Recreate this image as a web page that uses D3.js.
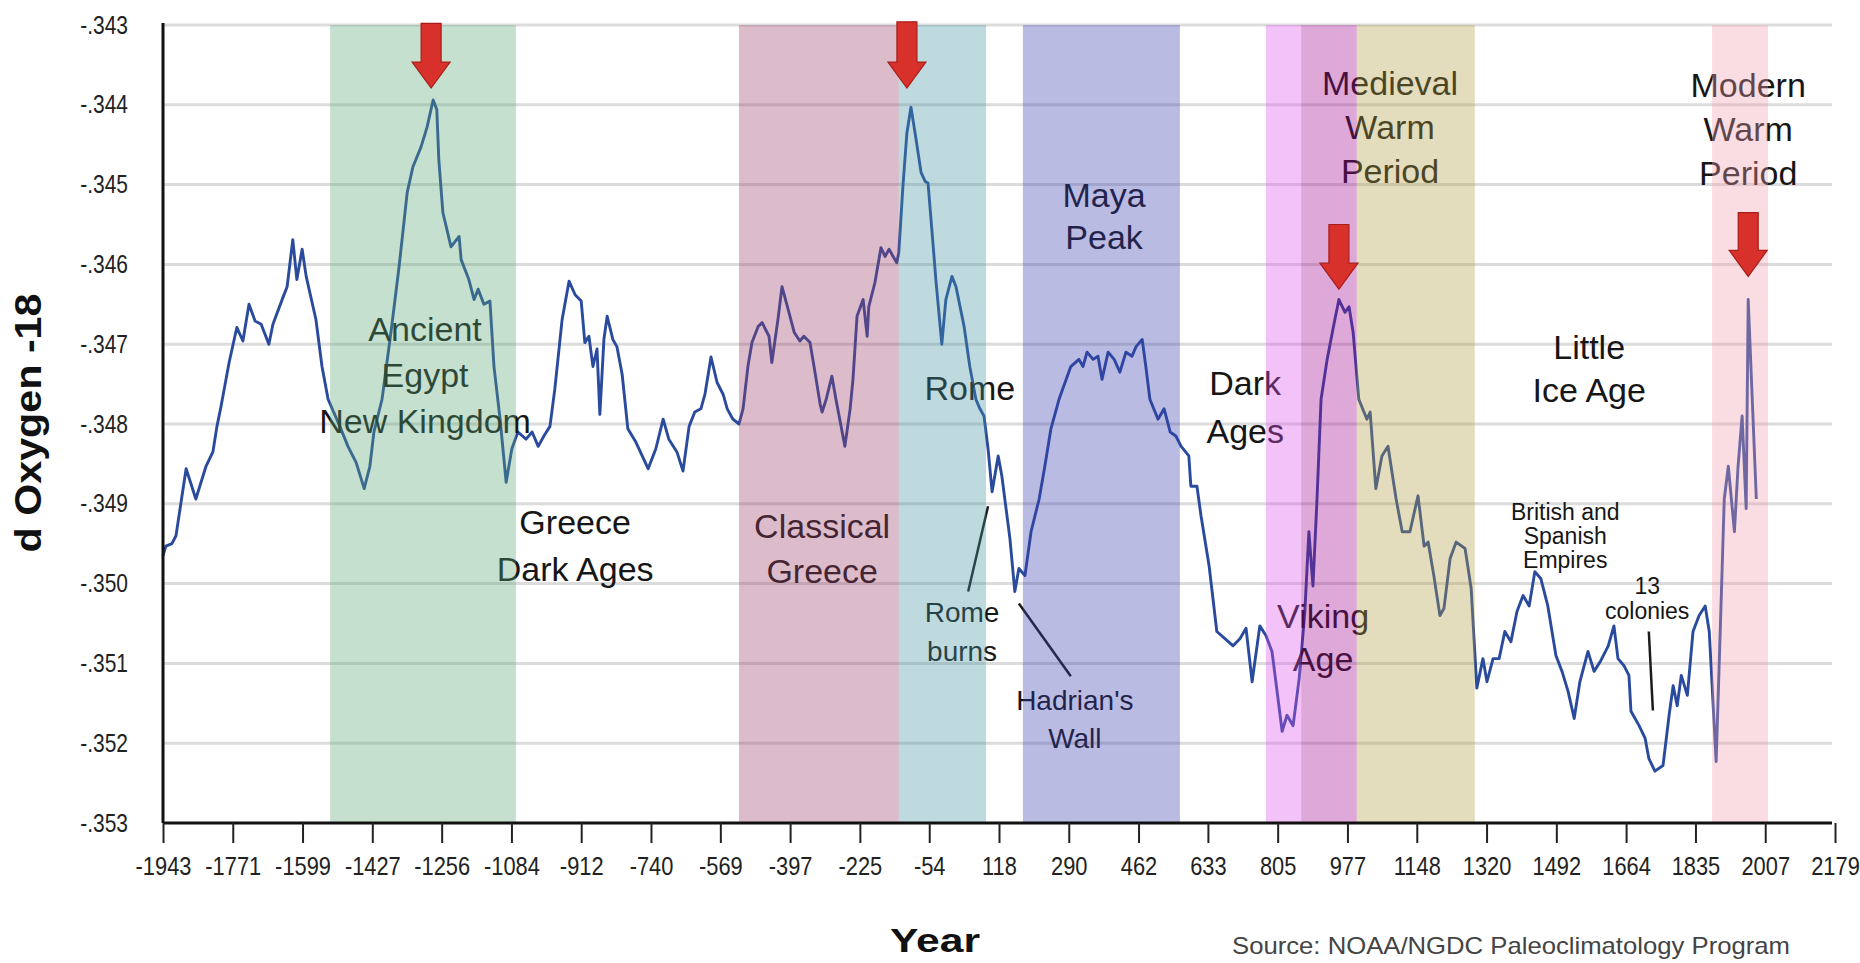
<!DOCTYPE html>
<html>
<head>
<meta charset="utf-8">
<script src="https://cdn.jsdelivr.net/npm/d3@7"></script>
<style>
  html, body { margin: 0; padding: 0; background: #fff; }
  svg { display: block; font-family: "Liberation Sans", Arial, Helvetica, sans-serif; }
</style>
</head>
<body>
<svg id="chart"></svg>
<script>
'use strict';

/* ============================================================
   d Oxygen-18 – ice core record with historical periods
   ============================================================ */

// ── Data ──────────────────────────────────────────────────
const years = [
  -1943,-1936,-1921,-1911,-1886,-1862,-1837,-1820,-1810,-1800,-1780,-1761,-1746,-1731,-1716,-1701,
  -1682,-1672,-1647,-1637,-1623,-1613,-1600,-1590,-1566,-1551,-1536,-1507,-1487,-1467,-1447,-1433,
  -1423,-1403,-1381,-1361,-1341,-1327,-1307,-1292,-1277,-1268,-1263,-1253,-1233,-1213,-1208,-1189,
  -1176,-1166,-1152,-1137,-1127,-1112,-1097,-1083,-1068,-1048,-1033,-1018,-1004,-989,-977,-959,
  -942,-927,-912,-903,-893,-883,-873,-866,-856,-848,-834,-824,-811,-797,-777,-747,
  -728,-710,-696,-676,-661,-646,-632,-617,-607,-592,-577,-562,-552,-538,-523,-513,
  -501,-491,-476,-466,-449,-442,-427,-417,-402,-387,-373,-363,-348,-338,-323,-318,
  -308,-294,-284,-262,-249,-242,-232,-217,-207,-203,-188,-173,-163,-153,-143,-134,
  -129,-119,-109,-99,-89,-74,-64,-57,-47,-37,-23,-13,2,12,32,46,
  61,71,81,91,101,116,125,145,157,167,182,197,217,231,246,266,
  295,315,325,335,350,362,372,387,402,416,431,446,456,471,480,490,
  510,525,540,554,567,586,591,606,616,636,655,675,695,712,727,742,
  761,776,791,816,828,843,858,872,882,892,902,912,927,946,956,971,
  981,991,1005,1025,1033,1047,1062,1077,1097,1112,1131,1151,1166,1176,1190,1205,
  1215,1230,1245,1267,1282,1296,1311,1321,1336,1351,1365,1380,1395,1410,1425,1439,
  1454,1471,1491,1506,1521,1536,1550,1570,1585,1600,1620,1634,1644,1659,1671,1676,
  1696,1711,1720,1735,1755,1770,1780,1790,1800,1815,1829,1844,1859,1869,1886,1896,
  1906,1916,1931,1940,1950,1960,1965,1985
];

const d18O = [
  -.34965,-.34953,-.34950,-.34940,-.34856,-.34894,-.34853,-.34835,-.34803,-.34778,-.34723,-.34679,-.34696,-.34650,-.34671,-.34675,
  -.34700,-.34675,-.34641,-.34628,-.34569,-.34619,-.34581,-.34615,-.34669,-.34728,-.34769,-.34803,-.34828,-.34848,-.34881,-.34853,
  -.34810,-.34769,-.34685,-.34603,-.34510,-.34478,-.34453,-.34428,-.34394,-.34406,-.34469,-.34535,-.34578,-.34565,-.34594,-.34619,
  -.34644,-.34631,-.34650,-.34646,-.34728,-.34794,-.34873,-.34831,-.34810,-.34819,-.34810,-.34828,-.34815,-.34803,-.34756,-.34669,
  -.34621,-.34638,-.34646,-.34698,-.34690,-.34728,-.34706,-.34788,-.34694,-.34665,-.34694,-.34703,-.34738,-.34806,-.34823,-.34856,
  -.34831,-.34794,-.34819,-.34835,-.34859,-.34803,-.34785,-.34781,-.34763,-.34716,-.34748,-.34763,-.34781,-.34794,-.34800,-.34781,
  -.34728,-.34698,-.34678,-.34673,-.34690,-.34723,-.34669,-.34628,-.34656,-.34685,-.34696,-.34690,-.34698,-.34728,-.34775,-.34785,
  -.34769,-.34740,-.34769,-.34828,-.34781,-.34744,-.34665,-.34644,-.34690,-.34653,-.34623,-.34579,-.34590,-.34581,-.34590,-.34598,
  -.34585,-.34503,-.34435,-.34403,-.34435,-.34485,-.34496,-.34498,-.34560,-.34623,-.34700,-.34644,-.34615,-.34628,-.34678,-.34728,
  -.34769,-.34781,-.34790,-.34831,-.34885,-.34840,-.34865,-.34944,-.35010,-.34981,-.34990,-.34935,-.34894,-.34853,-.34806,-.34769,
  -.34728,-.34719,-.34728,-.34710,-.34719,-.34715,-.34744,-.34710,-.34719,-.34735,-.34710,-.34715,-.34703,-.34694,-.34728,-.34769,
  -.34794,-.34781,-.34810,-.34815,-.34828,-.34840,-.34878,-.34878,-.34915,-.34978,-.35060,-.35069,-.35078,-.35069,-.35056,-.35123,
  -.35053,-.35065,-.35085,-.35185,-.35165,-.35178,-.35119,-.35035,-.34935,-.35003,-.34894,-.34769,-.34719,-.34669,-.34644,-.34660,
  -.34653,-.34685,-.34769,-.34794,-.34785,-.34881,-.34840,-.34828,-.34894,-.34935,-.34935,-.34890,-.34953,-.34948,-.34990,-.35040,
  -.35031,-.34969,-.34948,-.34956,-.35006,-.35131,-.35094,-.35123,-.35094,-.35094,-.35060,-.35073,-.35035,-.35015,-.35028,-.34985,
  -.34994,-.35028,-.35090,-.35110,-.35135,-.35169,-.35123,-.35085,-.35110,-.35098,-.35078,-.35053,-.35094,-.35103,-.35115,-.35160,
  -.35178,-.35194,-.35219,-.35235,-.35228,-.35165,-.35128,-.35153,-.35115,-.35140,-.35060,-.35040,-.35028,-.35060,-.35223,-.35060,
  -.34894,-.34853,-.34935,-.34853,-.34790,-.34906,-.34644,-.34894
];

const xTicks = [-1943,-1771,-1599,-1427,-1256,-1084,-912,-740,-569,-397,-225,-54,118,290,462,633,805,977,1148,1320,1492,1664,1835,2007,2179];
const yTicks = [-.353,-.352,-.351,-.350,-.349,-.348,-.347,-.346,-.345,-.344,-.343];

// historical periods (shaded bands, drawn translucent over line and text)
const periods = [
  { start: -1531, end: -1073, fill: '#5ca676' },   // Ancient Egypt
  { start:  -523, end:  -129, fill: '#9b4068' },   // Classical Greece
  { start:  -129, end:    86, fill: '#4895a1' },   // Rome
  { start:   177, end:   564, fill: '#3a3dac' },   // Maya
  { start:   776, end:   863, fill: '#da51eb' },   // Dark Ages
  { start:   863, end:  1000, fill: '#a10690' },   // Viking Age
  { start:  1000, end:  1291, fill: '#b29e42' },   // Medieval Warm
  { start:  1876, end:  2014, fill: '#f19eac' }    // Modern Warm
];

const labels = [
  { lines: ['Ancient', 'Egypt', 'New Kingdom'], year: -1297, value: -.34681, size: 34, gap: 46 },
  { lines: ['Greece', 'Dark Ages'],             year:  -927, value: -.34923, size: 34, gap: 47 },
  { lines: ['Classical', 'Greece'],             year:  -318, value: -.34928, size: 34, gap: 45 },
  { lines: ['Rome'],                            year:    46, value: -.34754, size: 34, gap: 0 },
  { lines: ['Rome', 'burns'],                   year:    27, value: -.35035, size: 28, gap: 39 },
  { lines: ["Hadrian's", 'Wall'],               year:   305, value: -.35146, size: 28, gap: 38 },
  { lines: ['Maya', 'Peak'],                    year:   377, value: -.34513, size: 34, gap: 42 },
  { lines: ['Dark', 'Ages'],                    year:   725, value: -.34748, size: 34, gap: 48 },
  { lines: ['Viking', 'Age'],                   year:   917, value: -.35040, size: 34, gap: 43 },
  { lines: ['Medieval', 'Warm', 'Period'],      year:  1082, value: -.34373, size: 34, gap: 44 },
  { lines: ['Little', 'Ice Age'],               year:  1573, value: -.34703, size: 34, gap: 43 },
  { lines: ['British and', 'Spanish', 'Empires'], year: 1514, value: -.34910, size: 23, gap: 24 },
  { lines: ['13', 'colonies'],                  year:  1716, value: -.35003, size: 23, gap: 25 },
  { lines: ['Modern', 'Warm', 'Period'],        year:  1965, value: -.34375, size: 34, gap: 44 }
];

const pointers = [
  { y1:   91, v1: -.34903, y2:   42, v2: -.35010 },   // Rome burns
  { y1:  167, v1: -.35025, y2:  295, v2: -.35116 },   // Hadrian's Wall
  { y1: 1720, v1: -.35060, y2: 1730, v2: -.35159 }    // 13 colonies
];

const arrows = [
  { year: -1282, top: -.34298, tip: -.34379 },
  { year:  -109, top: -.34296, tip: -.34379 },
  { year:   956, top: -.34550, tip: -.34631 },
  { year:  1965, top: -.34535, tip: -.34615 }
];

// ── Layout ────────────────────────────────────────────────
const W = 1860, H = 963;
const plot = { left: 163, right: 1835, top: 25, bottom: 823 };
const gridRight = 1832;

const svg = d3.select('#chart').attr('width', W).attr('height', H);
svg.append('rect').attr('width', W).attr('height', H).attr('fill', '#fff');

const x = d3.scaleLinear().domain([-1943, 2179]).range([plot.left, plot.right]);
const y = d3.scaleLinear().domain([-.353, -.343]).range([plot.bottom, plot.top]);

// ── Grid ──────────────────────────────────────────────────
svg.append('g')
  .selectAll('line')
  .data(yTicks.slice(1))
  .join('line')
  .attr('x1', plot.left).attr('x2', gridRight)
  .attr('y1', d => y(d)).attr('y2', d => y(d))
  .attr('stroke', '#dcdcdc')
  .attr('stroke-width', 3);

// ── Series ────────────────────────────────────────────────
const series = years.map((yr, i) => ({ year: yr, value: d18O[i] }));

svg.append('path')
  .datum(series)
  .attr('fill', 'none')
  .attr('stroke', '#2a4b9d')
  .attr('stroke-width', 2.9)
  .attr('stroke-linejoin', 'round')
  .attr('d', d3.line().x(d => x(d.year)).y(d => y(d.value)));

// ── Labels & pointers (under the bands so they get tinted) ─
const lab = svg.append('g').attr('fill', '#161616');
labels.forEach(l => {
  const t = lab.append('text')
    .attr('text-anchor', 'middle')
    .attr('font-size', l.size);
  l.lines.forEach((s, i) => {
    t.append('tspan')
      .attr('x', x(l.year))
      .attr('y', y(l.value) + i * l.gap + l.size * 0.36)
      .text(s);
  });
});

svg.append('g')
  .selectAll('line')
  .data(pointers)
  .join('line')
  .attr('x1', d => x(d.y1)).attr('y1', d => y(d.v1))
  .attr('x2', d => x(d.y2)).attr('y2', d => y(d.v2))
  .attr('stroke', '#1c1c1c')
  .attr('stroke-width', 2.5);

// ── Period bands ──────────────────────────────────────────
svg.append('g')
  .selectAll('rect')
  .data(periods)
  .join('rect')
  .attr('x', d => x(d.start))
  .attr('width', d => x(d.end) - x(d.start))
  .attr('y', plot.top)
  .attr('height', plot.bottom - plot.top)
  .attr('fill', d => d.fill)
  .attr('fill-opacity', 0.35);

// ── Axes ──────────────────────────────────────────────────
const xAxis = svg.append('g')
  .attr('transform', `translate(0,${plot.bottom})`)
  .call(d3.axisBottom(x).tickValues(xTicks).tickFormat(d => d).tickSize(20).tickSizeOuter(0).tickPadding(14));
xAxis.select('.domain').attr('stroke', '#111').attr('stroke-width', 3)
  .attr('d', `M${plot.left},0H${gridRight}`);
xAxis.selectAll('.tick line').attr('stroke', '#222').attr('stroke-width', 2);
xAxis.selectAll('.tick text')
  .attr('fill', '#222')
  .attr('font-size', 26)
  .attr('font-family', '"Liberation Sans", Arial, sans-serif')
  .attr('transform', 'scale(0.84,1)');

const yAxis = svg.append('g')
  .attr('transform', `translate(${plot.left},0)`)
  .call(d3.axisLeft(y).tickValues(yTicks).tickSize(0).tickSizeOuter(0)
    .tickFormat(d => d.toFixed(3).replace('0.', '.')));
yAxis.select('.domain').attr('stroke', '#111').attr('stroke-width', 3)
  .attr('d', `M0,${plot.bottom}V${plot.top - 2}`);
yAxis.selectAll('.tick text')
  .attr('fill', '#222')
  .attr('font-size', 25)
  .attr('font-family', '"Liberation Sans", Arial, sans-serif')
  .attr('x', -35 / 0.84)
  .attr('transform', 'scale(0.84,1)');

// ── Arrows ────────────────────────────────────────────────
const shaftW = 10, headW = 19, headL = 26;
svg.append('g')
  .selectAll('path')
  .data(arrows)
  .join('path')
  .attr('d', d => {
    const cx = x(d.year), t = y(d.top), p = y(d.tip), h = p - headL;
    return `M${cx - shaftW},${t}H${cx + shaftW}V${h}H${cx + headW}L${cx},${p}L${cx - headW},${h}H${cx - shaftW}Z`;
  })
  .attr('fill', '#d8302a')
  .attr('stroke', '#a81e1a')
  .attr('stroke-width', 1.2);

// ── Titles ────────────────────────────────────────────────
svg.append('text')
  .attr('transform', 'translate(41,423) rotate(-90)')
  .attr('text-anchor', 'middle')
  .attr('font-size', 36)
  .attr('font-weight', 700)
  .attr('fill', '#111')
  .attr('textLength', 259)
  .attr('lengthAdjust', 'spacingAndGlyphs')
  .text('d Oxygen -18');

svg.append('text')
  .attr('x', 890).attr('y', 952)
  .attr('font-size', 34)
  .attr('font-weight', 700)
  .attr('fill', '#111')
  .attr('textLength', 90)
  .attr('lengthAdjust', 'spacingAndGlyphs')
  .text('Year');

svg.append('text')
  .attr('x', 1232).attr('y', 954)
  .attr('font-size', 24)
  .attr('fill', '#444')
  .attr('textLength', 558)
  .attr('lengthAdjust', 'spacingAndGlyphs')
  .text('Source: NOAA/NGDC Paleoclimatology Program');
</script>
</body>
</html>
